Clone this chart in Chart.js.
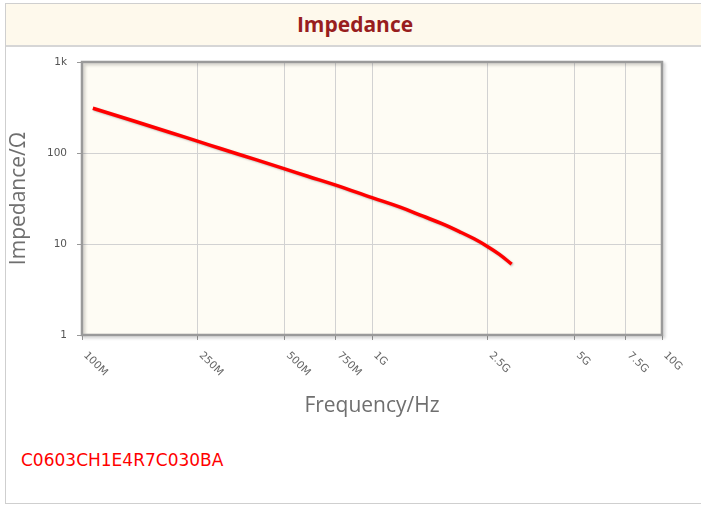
<!DOCTYPE html>
<html>
<head>
<meta charset="utf-8">
<script src="https://cdn.jsdelivr.net/npm/chart.js@4/dist/chart.umd.min.js"></script>
<style>
  body { margin: 0; background: #fff; width: 701px; height: 507px; overflow: hidden; position: relative; }
  #painel { position: absolute; left: 5px; top: 3px; width: 700px; height: 501px; border: 1px solid #cfcfcf; box-sizing: border-box; }
  #titulo { height: 41px; background: #fef9ec; border-bottom: 2px solid #d6d6d6; text-align: center;
            font: bold 21px "Open Sans", sans-serif; color: #981e1e; line-height: 41px; }
  #codigo { position: absolute; left: 21px; top: 450px; font: 17px "DejaVu Sans", sans-serif; color: #ff0000; }
  #grafico { position: absolute; left: 0; top: 0; }
</style>
</head>
<body>
<div id="painel"><div id="titulo">Impedance</div></div>
<div id="codigo">C0603CH1E4R7C030BA</div>
<canvas id="grafico" width="701" height="507"></canvas>
<script>
// Valores
const frequencias = [1.09e8, 1.5e8, 2e8, 2.5e8, 3e8, 4e8, 5e8, 6e8, 7.5e8, 1e9, 1.25e9, 1.5e9, 1.75e9, 2e9, 2.25e9, 2.5e9, 2.75e9, 3.03e9];
const impedancias = [310, 226, 169, 135, 112, 84, 67, 55.5, 44.3, 32.3, 25.4, 20.2, 16.6, 13.7, 11.4, 9.4, 7.7, 6.0];
const ticksX = [1e8, 2.5e8, 5e8, 7.5e8, 1e9, 2.5e9, 5e9, 7.5e9, 1e10];
const rotulosX = ['100M', '250M', '500M', '750M', '1G', '2.5G', '5G', '7.5G', '10G'];
const ticksY = [1, 10, 100, 1000];
const rotulosY = ['1', '10', '100', '1k'];

const pontos = frequencias.map((f, i) => ({ x: f, y: impedancias[i] }));

// Fundo, borda da área e rótulos inclinados do eixo X
const plugArea = {
  id: 'plugArea',
  beforeDraw(chart) {
    const { ctx, chartArea: a } = chart;
    ctx.save();
    ctx.fillStyle = '#fefcf4';
    ctx.fillRect(a.left, a.top, a.right - a.left, a.bottom - a.top);
    ctx.restore();
  },
  beforeDatasetsDraw(chart) {
    const ctx = chart.ctx;
    ctx.save();
    ctx.shadowColor = 'rgba(0,0,0,0.25)';
    ctx.shadowBlur = 2;
    ctx.shadowOffsetX = 1;
    ctx.shadowOffsetY = 1;
  },
  afterDatasetsDraw(chart) {
    chart.ctx.restore();
  },
  afterDraw(chart) {
    const { ctx, chartArea: a } = chart;
    const sx = chart.scales.x;
    ctx.save();
    ctx.shadowColor = 'rgba(0,0,0,0.2)';
    ctx.shadowBlur = 3;
    ctx.shadowOffsetX = 2;
    ctx.shadowOffsetY = 2;
    ctx.strokeStyle = '#9a9a9a';
    ctx.lineWidth = 2.5;
    ctx.strokeRect(a.left, a.top, a.right - a.left, a.bottom - a.top);
    ctx.restore();

    ctx.save();
    ctx.fillStyle = '#666';
    ctx.font = '10.5px "DejaVu Sans"';
    ctx.textAlign = 'left';
    ctx.textBaseline = 'top';
    ticksX.forEach((v, i) => {
      const px = sx.getPixelForValue(v);
      ctx.save();
      ctx.translate(px + 7, a.bottom + 15);
      ctx.rotate(Math.PI / 4);
      ctx.fillText(rotulosX[i], 0, 0);
      ctx.restore();
    });
    ctx.restore();
  }
};

new Chart(document.getElementById('grafico'), {
  type: 'line',
  data: {
    datasets: [{
      data: pontos,
      borderColor: '#ff0000',
      borderWidth: 3.5,
      pointRadius: 0,
      tension: 0.4,
      fill: false
    }]
  },
  options: {
    responsive: false,
    animation: false,
    layout: { padding: { left: 6, top: 62, right: 39, bottom: 88 } },
    plugins: { legend: { display: false }, tooltip: { enabled: false } },
    scales: {
      x: {
        type: 'logarithmic',
        min: 1e8,
        max: 1e10,
        afterBuildTicks: s => { s.ticks = ticksX.map(v => ({ value: v })); },
        afterFit: s => { s.height = 84; },
        ticks: { display: false },
        grid: { color: '#d2d2d2', tickColor: '#999', tickLength: 5 },
        border: { display: false },
        title: {
          display: true,
          text: 'Frequency/Hz',
          color: '#6f6f6f',
          font: { family: 'Open Sans', size: 21 },
          padding: 0
        }
      },
      y: {
        type: 'logarithmic',
        min: 1,
        max: 1000,
        afterBuildTicks: s => { s.ticks = ticksY.map(v => ({ value: v })); },
        afterFit: s => { s.width = 76; },
        ticks: {
          color: '#555',
          font: { family: 'DejaVu Sans', size: 10.5 },
          padding: 10,
          callback: (v) => rotulosY[ticksY.indexOf(v)]
        },
        grid: { color: '#d2d2d2', tickColor: '#999', tickLength: 5 },
        border: { display: false },
        title: {
          display: true,
          text: 'Impedance/Ω',
          color: '#6f6f6f',
          font: { family: 'Open Sans', size: 21 },
          padding: 0
        }
      }
    }
  },
  plugins: [plugArea]
});
</script>
</body>
</html>
